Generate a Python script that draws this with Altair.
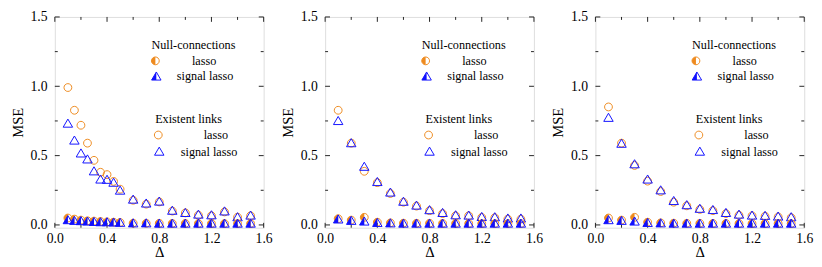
import altair as alt
import pandas as pd

# ---------------- data ----------------
x_p1 = [0.1, 0.15, 0.2, 0.25, 0.3, 0.35, 0.4, 0.45, 0.5, 0.6, 0.7, 0.8, 0.9, 1.0, 1.1, 1.2, 1.3, 1.4, 1.5]
x_p23 = [0.1, 0.2, 0.3, 0.4, 0.5, 0.6, 0.7, 0.8, 0.9, 1.0, 1.1, 1.2, 1.3, 1.4, 1.5]

# panel 1
p1_ex_lasso = [0.991, 0.827, 0.719, 0.590, 0.466, 0.380, 0.363, 0.314, 0.258, 0.178, 0.150, 0.166, 0.100, 0.087, 0.070, 0.066, 0.094, 0.056, 0.066]
p1_ex_signal = [0.731, 0.609, 0.516, 0.473, 0.387, 0.328, 0.326, 0.305, 0.248, 0.183, 0.155, 0.169, 0.103, 0.087, 0.075, 0.070, 0.098, 0.056, 0.068]
p1_null_lasso = [0.050, 0.042, 0.035, 0.030, 0.028, 0.025, 0.022, 0.020, 0.018, 0.013, 0.012, 0.012, 0.011, 0.011, 0.010, 0.010, 0.010, 0.010, 0.010]
p1_null_signal = [0.035, 0.030, 0.028, 0.025, 0.022, 0.020, 0.020, 0.018, 0.016, 0.012, 0.012, 0.010, 0.010, 0.010, 0.010, 0.010, 0.010, 0.010, 0.010]

# panel 2
p2_ex_lasso = [0.827, 0.590, 0.387, 0.305, 0.227, 0.164, 0.136, 0.103, 0.082, 0.066, 0.066, 0.054, 0.052, 0.042, 0.042]
p2_ex_signal = [0.750, 0.590, 0.420, 0.310, 0.234, 0.168, 0.140, 0.107, 0.087, 0.070, 0.068, 0.058, 0.056, 0.047, 0.047]
p2_null_lasso = [0.045, 0.035, 0.055, 0.020, 0.015, 0.013, 0.012, 0.012, 0.011, 0.011, 0.010, 0.010, 0.010, 0.010, 0.010]
p2_null_signal = [0.040, 0.030, 0.025, 0.015, 0.012, 0.010, 0.010, 0.010, 0.010, 0.010, 0.010, 0.010, 0.010, 0.010, 0.010]

# panel 3
p3_ex_lasso = [0.851, 0.590, 0.429, 0.316, 0.241, 0.164, 0.138, 0.112, 0.103, 0.082, 0.070, 0.066, 0.063, 0.058, 0.052]
p3_ex_signal = [0.773, 0.586, 0.438, 0.328, 0.250, 0.173, 0.143, 0.117, 0.108, 0.087, 0.075, 0.068, 0.066, 0.061, 0.056]
p3_null_lasso = [0.050, 0.035, 0.055, 0.020, 0.015, 0.013, 0.012, 0.012, 0.011, 0.011, 0.010, 0.010, 0.010, 0.010, 0.010]
p3_null_signal = [0.035, 0.030, 0.025, 0.015, 0.012, 0.010, 0.010, 0.010, 0.010, 0.010, 0.010, 0.010, 0.010, 0.010, 0.010]

x_major = [0.0, 0.4, 0.8, 1.2, 1.6]
x_minor = [0.2, 0.6, 1.0, 1.4]
y_major = [0.0, 0.5, 1.0, 1.5]
y_minor = [0.25, 0.75, 1.25]

# ---------------- styling ----------------
FONT = "Liberation Serif"
ORANGE = "#EE8A1E"
BLUE = "#1010FF"
W, H = 214, 216
MAJ, MIN = 5, 3

CIRCLE = "M-1,0A1,1,0,1,1,1,0A1,1,0,1,1,-1,0Z"
HALF_CIRCLE = "M0,-1A1,1,0,0,0,0,1Z"
TRI = "M0,-1L1.05,0.8L-1.05,0.8Z"
HALF_TRI = "M0,-1L0,0.8L-1.05,0.8Z"

xscale = alt.Scale(domain=[0, 1.6], nice=False, zero=False)
yscale = alt.Scale(domain=[-0.02, 1.5], nice=False, zero=False)
xaxis = alt.Axis(values=x_major, format=".1f", ticks=False, domain=False, grid=False,
                 labelFont=FONT, labelFontSize=14, labelColor="black", labelPadding=4,
                 titleFont=FONT, titleFontSize=15, titleFontWeight="normal", titleColor="black",
                 titlePadding=0, labelFlush=False)
yaxis = alt.Axis(values=y_major, format=".1f", ticks=False, domain=False, grid=False,
                 labelFont=FONT, labelFontSize=14, labelColor="black", labelPadding=8,
                 titleFont=FONT, titleFontSize=15, titleFontWeight="normal", titleColor="black",
                 titlePadding=5, labelFlush=False)


def X(field):
    return alt.X(f"{field}:Q", scale=xscale, axis=xaxis, title="Δ")


def Y(field):
    return alt.Y(f"{field}:Q", scale=yscale, axis=yaxis, title="MSE")


def tick_layers():
    layers = []
    for vals, ln in ((x_major, MAJ), (x_minor, MIN)):
        df = pd.DataFrame({"t": vals})
        base = alt.Chart(df).mark_rule(color="#222", strokeWidth=1)
        layers.append(base.encode(x=X("t"), y=alt.value(H), y2=alt.value(H - ln)))
        layers.append(base.encode(x=X("t"), y=alt.value(0), y2=alt.value(ln)))
    for vals, ln in ((y_major, MAJ), (y_minor, MIN)):
        df = pd.DataFrame({"t": vals})
        base = alt.Chart(df).mark_rule(color="#222", strokeWidth=1)
        layers.append(base.encode(y=Y("t"), x=alt.value(0), x2=alt.value(ln)))
        layers.append(base.encode(y=Y("t"), x=alt.value(W), x2=alt.value(W - ln)))
    return layers


def pts(df, shape, size, filled, color, sw=1.0):
    if filled:
        m = alt.Chart(df).mark_point(shape=shape, size=size, filled=True, fill=color,
                                     strokeWidth=0, opacity=1)
    else:
        m = alt.Chart(df).mark_point(shape=shape, size=size, filled=False, stroke=color,
                                     strokeWidth=sw, opacity=1)
    return m.encode(x=X("x"), y=Y("v"))


one = pd.DataFrame({"k": [0]})


def leg_sym(x, y, shape, size, filled, color):
    if filled:
        m = alt.Chart(one).mark_point(shape=shape, size=size, filled=True, fill=color,
                                      strokeWidth=0, opacity=1)
    else:
        m = alt.Chart(one).mark_point(shape=shape, size=size, filled=False, stroke=color,
                                      strokeWidth=1, opacity=1)
    return m.encode(x=alt.value(x), y=alt.value(y))


def leg_text(x, y, s):
    return alt.Chart(one).mark_text(font=FONT, fontSize=12.5, color="black", align="center",
                                    baseline="middle").encode(
        x=alt.value(x), y=alt.value(y), text=alt.value(s))


def legend_layers():
    return [
        leg_text(142, 29, "Null-connections"),
        leg_sym(103, 45, HALF_CIRCLE, 64, True, ORANGE),
        leg_sym(103, 45, CIRCLE, 64, False, ORANGE),
        leg_text(153, 45, "lasso"),
        leg_sym(104, 61, HALF_TRI, 85, True, BLUE),
        leg_sym(104, 61, TRI, 85, False, BLUE),
        leg_text(154, 61, "signal lasso"),
        leg_text(137, 105, "Existent links"),
        leg_sym(106, 121, CIRCLE, 64, False, ORANGE),
        leg_text(165, 121, "lasso"),
        leg_sym(107, 138, TRI, 85, False, BLUE),
        leg_text(158, 138, "signal lasso"),
    ]


def panel(xs, ex_l, ex_s, nu_l, nu_s):
    d_el = pd.DataFrame({"x": xs, "v": ex_l})
    d_es = pd.DataFrame({"x": xs, "v": ex_s})
    d_nl = pd.DataFrame({"x": xs, "v": nu_l})
    d_ns = pd.DataFrame({"x": xs, "v": nu_s})
    layers = tick_layers() + [
        pts(d_el, CIRCLE, 64, False, ORANGE),
        pts(d_es, TRI, 85, False, BLUE),
        pts(d_nl, HALF_CIRCLE, 64, True, ORANGE),
        pts(d_nl, CIRCLE, 64, False, ORANGE),
        pts(d_ns, HALF_TRI, 85, True, BLUE),
        pts(d_ns, TRI, 85, False, BLUE),
    ] + legend_layers()
    return alt.layer(*layers).properties(width=W, height=H)


chart = alt.hconcat(
    panel(x_p1, p1_ex_lasso, p1_ex_signal, p1_null_lasso, p1_null_signal),
    panel(x_p23, p2_ex_lasso, p2_ex_signal, p2_null_lasso, p2_null_signal),
    panel(x_p23, p3_ex_lasso, p3_ex_signal, p3_null_lasso, p3_null_signal),
    spacing=7,
).properties(
    padding={"left": 2, "top": -2, "right": 0, "bottom": 0}
).configure_view(
    stroke="#222", strokeWidth=1
).configure(background="white")

chart.save("out.html", embed_options={"renderer": "svg", "actions": False})
